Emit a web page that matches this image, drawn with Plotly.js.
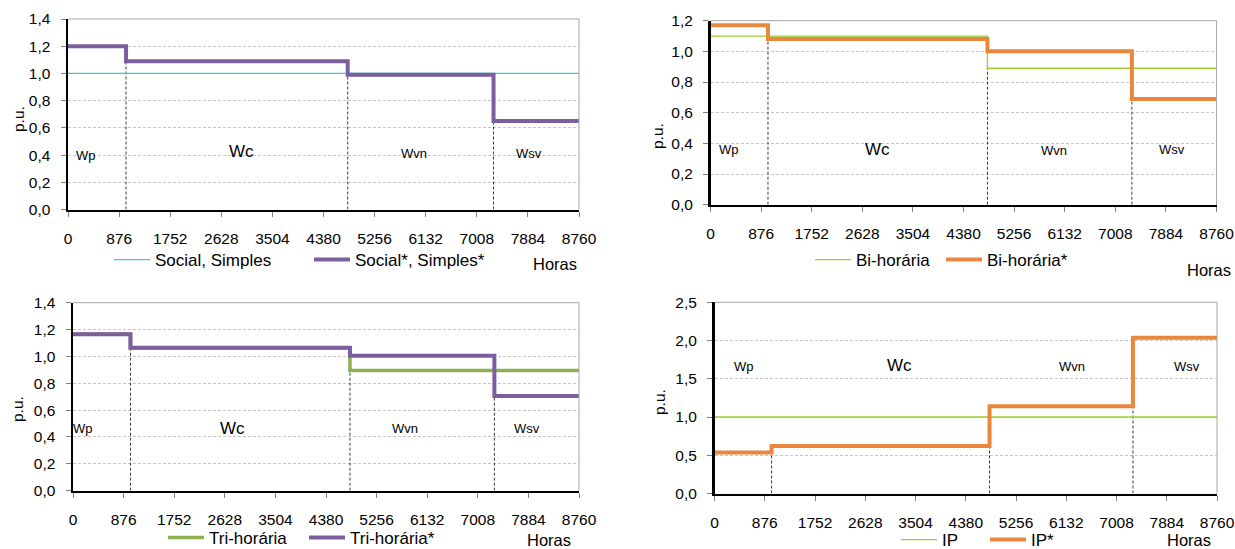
<!DOCTYPE html>
<html>
<head>
<meta charset="utf-8">
<script src="https://cdn.plot.ly/plotly-3.0.1.min.js"></script>
<style>
  html, body { margin: 0; padding: 0; background: #fff; overflow: hidden; }
  #chart { width: 1235px; height: 565px; }
</style>
</head>
<body>
<div id="chart"></div>
<script>
// Tariff period boundaries over the year (hours)
const hours = [0, 995, 4795, 7295, 8760];
const xTickVals = [0, 876, 1752, 2628, 3504, 4380, 5256, 6132, 7008, 7884, 8760];
const periodLabels = ['Wp', 'Wc', 'Wvn', 'Wsv'];

// Per-unit levels for each period (Wp, Wc, Wvn, Wsv)
const socialSimples     = [1.00, 1.00, 1.00, 1.00];
const socialSimplesStar = [1.20, 1.09, 0.99, 0.65];
const biHoraria         = [1.10, 1.10, 0.89, 0.89];
const biHorariaStar     = [1.17, 1.08, 1.00, 0.69];
const triHoraria        = [1.165, 1.065, 0.895, 0.895];
const triHorariaStar    = [1.165, 1.065, 1.005, 0.705];
const ip                = [1.00, 1.00, 1.00, 1.00];
const ipStar            = [0.535, 0.62, 1.14, 2.035];

const seriesNames = {
  social: ['Social, Simples', 'Social*, Simples*'],
  bi: ['Bi-horária', 'Bi-horária*'],
  tri: ['Tri-horária', 'Tri-horária*'],
  ip: ['IP', 'IP*']
};

// figure is a little taller than the window so bottom legends can sit near the edge
const W = 1235, H = 565;
const FONT = 'Liberation Sans, Arial, sans-serif';
const px = v => v / W;
const py = v => 1 - v / H;

// step profile: each level holds until the next boundary
function stepY(levels) { return levels.concat([levels[levels.length - 1]]); }

// dashed dividers at the inner boundaries, up to the lower adjacent level of the starred profile
function dividers(levels, xa, ya) {
  const x = [], y = [];
  for (let i = 1; i < hours.length - 1; i++) {
    x.push(hours[i], hours[i], null);
    y.push(0, Math.min(levels[i - 1], levels[i]), null);
  }
  return { type: 'scatter', mode: 'lines', x: x, y: y, xaxis: xa, yaxis: ya,
           line: { color: '#3a3a3a', width: 1, dash: '3px,2px' },
           showlegend: false, hoverinfo: 'skip' };
}

function stepTrace(name, levels, xa, ya, color, width, legend) {
  return { type: 'scatter', mode: 'lines', name: name, x: hours, y: stepY(levels),
           xaxis: xa, yaxis: ya, legend: legend,
           line: { shape: 'hv', color: color, width: width }, hoverinfo: 'skip' };
}

const panels = [
  { xa: 'x',  ya: 'y',  base: socialSimples, star: socialSimplesStar, names: seriesNames.social,
    baseColor: '#36cdcf', baseWidth: 1.3, starColor: '#7a5e9e',
    xdom: [68, 579], ydom: [19, 209.5], yrange: [0, 1.4], dtick: 0.2, legend: 'legend',
    labelX: [312, 2975, 5937, 7904], labelY: [0.40, 0.423, 0.41, 0.41],
    pu: [18, 119], horas: [555, 264] },
  { xa: 'x2', ya: 'y2', base: biHoraria, star: biHorariaStar, names: seriesNames.bi,
    baseColor: '#9bd028', baseWidth: 1.3, starColor: '#e9873c',
    xdom: [710.5, 1216.5], ydom: [20.7, 204.7], yrange: [0, 1.2], dtick: 0.2, legend: 'legend2',
    labelX: [326, 2891, 5944, 7993], labelY: [0.359, 0.361, 0.352, 0.357],
    pu: [657, 136], horas: [1209, 270] },
  { xa: 'x3', ya: 'y3', base: triHoraria, star: triHorariaStar, names: seriesNames.tri,
    baseColor: '#8fb04e', baseWidth: 3.5, starColor: '#7a5e9e',
    xdom: [73, 579], ydom: [302.7, 490.7], yrange: [0, 1.4], dtick: 0.2, legend: 'legend3',
    labelX: [171, 2758, 5742, 7863], labelY: [0.465, 0.46, 0.465, 0.465],
    pu: [18, 409], horas: [549, 540] },
  { xa: 'x4', ya: 'y4', base: ip, star: ipStar, names: seriesNames.ip,
    baseColor: '#9bd028', baseWidth: 1.3, starColor: '#e9873c',
    xdom: [714.5, 1217], ydom: [302.3, 493.5], yrange: [0, 2.5], dtick: 0.5, legend: 'legend4',
    labelX: [520, 3221, 6230, 8233], labelY: [1.657, 1.674, 1.657, 1.657],
    pu: [659, 402], horas: [1189, 540] }
];

const legendPos = {
  legend:  { x: 109, y: 260, entrywidth: 149 },
  legend2: { x: 810, y: 260, entrywidth: 80 },
  legend3: { x: 163, y: 538, entrywidth: 90 },
  legend4: { x: 896, y: 540, entrywidth: 38 }
};

const data = [];
const layout = {
  width: W, height: H,
  margin: { l: 0, r: 0, t: 0, b: 0 },
  paper_bgcolor: '#ffffff', plot_bgcolor: '#ffffff',
  separators: ', ',
  font: { family: FONT, size: 15.5, color: '#000' },
  showlegend: true,
  annotations: [],
  shapes: []
};

panels.forEach((p, i) => {
  data.push(dividers(p.star, p.xa, p.ya));
  data.push(stepTrace(p.names[0], p.base, p.xa, p.ya, p.baseColor, p.baseWidth, p.legend));
  data.push(stepTrace(p.names[1], p.star, p.xa, p.ya, p.starColor, 4, p.legend));

  const xKey = 'xaxis' + (i ? i + 1 : '');
  const yKey = 'yaxis' + (i ? i + 1 : '');
  layout[xKey] = {
    domain: [px(p.xdom[0]), px(p.xdom[1])], anchor: p.ya,
    range: [0, 8760], tickvals: xTickVals, ticktext: xTickVals.map(String),
    showgrid: false, zeroline: false,
    showline: true, linecolor: '#000', linewidth: 2,
    ticks: 'outside', ticklen: 5, tickcolor: '#808080', tickwidth: 1,
    ticklabelstandoff: 9,
    tickfont: { family: FONT, size: 15.5, color: '#000' }
  };
  layout[yKey] = {
    domain: [py(p.ydom[1]), py(p.ydom[0])], anchor: p.xa,
    range: p.yrange, dtick: p.dtick, tick0: 0, tickformat: '.1f',
    showgrid: true, gridcolor: '#c4c4c4', gridwidth: 1, griddash: '3px,2px',
    zeroline: false,
    showline: true, linecolor: '#000', linewidth: 2.5,
    ticks: 'outside', ticklen: 5, tickcolor: '#808080', tickwidth: 1,
    ticklabelstandoff: 7,
    tickfont: { family: FONT, size: 15.5, color: '#000' }
  };

  // light frame on the top and right of each plot area
  layout.shapes.push({ type: 'line', xref: p.xa + ' domain', yref: p.ya + ' domain',
    x0: 0, x1: 1, y0: 1, y1: 1, line: { color: '#a6a6a6', width: 1 } });
  layout.shapes.push({ type: 'line', xref: p.xa + ' domain', yref: p.ya + ' domain',
    x0: 1, x1: 1, y0: 0, y1: 1, line: { color: '#a6a6a6', width: 1 } });

  // period labels
  periodLabels.forEach((lbl, k) => {
    layout.annotations.push({ xref: p.xa, yref: p.ya, x: p.labelX[k], y: p.labelY[k],
      text: lbl, showarrow: false, xanchor: 'center', yanchor: 'middle',
      font: { family: FONT, size: lbl === 'Wc' ? 17 : 13, color: '#000' } });
  });

  // axis captions
  layout.annotations.push({ xref: 'paper', yref: 'paper', x: px(p.pu[0]), y: py(p.pu[1]),
    text: 'p.u.', textangle: -90, showarrow: false, xanchor: 'center', yanchor: 'middle',
    font: { family: FONT, size: 15.5, color: '#000' } });
  layout.annotations.push({ xref: 'paper', yref: 'paper', x: px(p.horas[0]), y: py(p.horas[1]),
    text: 'Horas', showarrow: false, xanchor: 'center', yanchor: 'middle',
    font: { family: FONT, size: 16.5, color: '#000' } });

  const lp = legendPos[p.legend];
  layout[p.legend] = {
    orientation: 'h', x: px(lp.x), y: py(lp.y), xanchor: 'left', yanchor: 'middle',
    xref: 'paper', yref: 'paper',
    entrywidth: lp.entrywidth, entrywidthmode: 'pixels',
    bgcolor: 'rgba(0,0,0,0)', borderwidth: 0, itemwidth: 36,
    font: { family: FONT, size: 17, color: '#000' }
  };
});

Plotly.newPlot('chart', data, layout, { staticPlot: true, displayModeBar: false });
</script>
</body>
</html>
